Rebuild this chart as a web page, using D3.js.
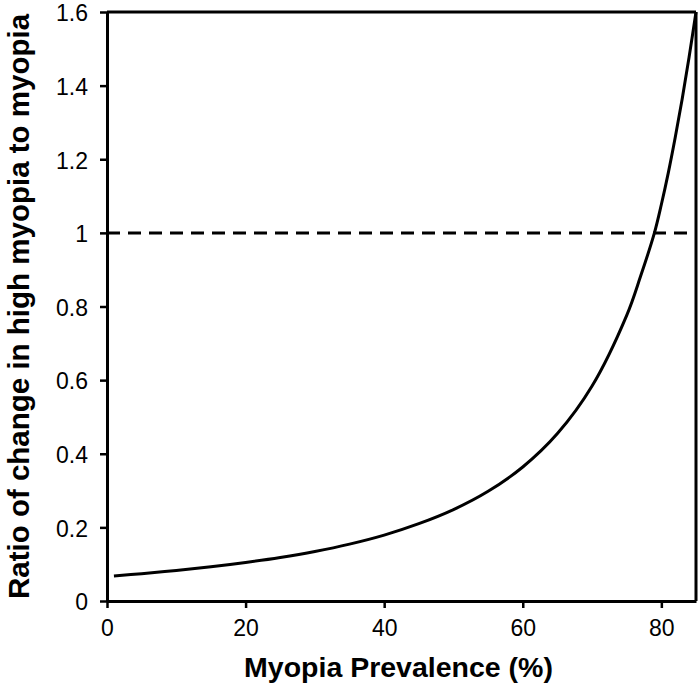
<!DOCTYPE html>
<html>
<head>
<meta charset="utf-8">
<script src="https://cdn.jsdelivr.net/npm/d3@7"></script>
<style>
  html, body { margin: 0; padding: 0; background: #fff; }
  svg { display: block; }
  text { font-family: "Liberation Sans", Arial, sans-serif; fill: #000; }
</style>
</head>
<body>
<svg id="chart" width="700" height="685"></svg>
<script>
// Data
const prevalence = [1, 5, 10, 15, 20, 25, 30, 35, 40, 45, 50, 55, 60, 65, 70, 75, 77, 79, 80, 81, 82, 83, 84, 85];
const ratio      = [0.068, 0.0743, 0.083, 0.093, 0.1047, 0.1183, 0.1346, 0.1545, 0.179, 0.210, 0.2483, 0.298, 0.364, 0.4548, 0.584, 0.776, 0.882, 1.0, 1.077, 1.163, 1.259, 1.363, 1.477, 1.6];
const referenceValue = 1;
const xTicks = [0, 20, 40, 60, 80];
const xTickLabels = ["0", "20", "40", "60", "80"];
const yTicks = [0, 0.2, 0.4, 0.6, 0.8, 1, 1.2, 1.4, 1.6];
const yTickLabels = ["0", "0.2", "0.4", "0.6", "0.8", "1", "1.2", "1.4", "1.6"];
const xTitle = "Myopia Prevalence (%)";
const yTitle = "Ratio of change in high myopia to myopia";

const svg = d3.select("#chart");
const margin = { left: 107, top: 12, right: 4, bottom: 84 };
const W = 700, H = 685;
const x = d3.scaleLinear().domain([0, 85]).range([margin.left, W - margin.right]);
const y = d3.scaleLinear().domain([0, 1.6]).range([H - margin.bottom, margin.top]);

const lw = 3;
const tickFont = "23px";

// X axis
const xAxis = d3.axisBottom(x).tickValues(xTicks)
  .tickFormat((d, i) => xTickLabels[i]).tickSizeInner(7).tickSizeOuter(0).tickPadding(12);
const gx = svg.append("g").attr("transform", `translate(0,${y(0)})`).call(xAxis);
gx.select(".domain").attr("stroke", "#000").attr("stroke-width", lw);
gx.selectAll(".tick line").attr("stroke", "#000").attr("stroke-width", 2.5);
gx.selectAll(".tick text").style("font-size", tickFont).style("font-family", "Liberation Sans, Arial, sans-serif");

// Y axis
const yAxis = d3.axisLeft(y).tickValues(yTicks)
  .tickFormat((d, i) => yTickLabels[i]).tickSizeInner(7).tickSizeOuter(0).tickPadding(12);
const gy = svg.append("g").attr("transform", `translate(${x(0)},0)`).call(yAxis);
gy.select(".domain").attr("stroke", "#000").attr("stroke-width", lw);
gy.selectAll(".tick line").attr("stroke", "#000").attr("stroke-width", 2.5);
gy.selectAll(".tick text").attr("dy", "0.38em").style("font-size", tickFont).style("font-family", "Liberation Sans, Arial, sans-serif");

// Top and right frame lines
svg.append("line").attr("x1", x(0)).attr("x2", x(85)).attr("y1", y(1.6)).attr("y2", y(1.6))
  .attr("stroke", "#000").attr("stroke-width", lw);
svg.append("line").attr("x1", x(85)).attr("x2", x(85)).attr("y1", y(1.6)).attr("y2", y(0))
  .attr("stroke", "#000").attr("stroke-width", lw);

// Dashed reference line
svg.append("line").attr("x1", x(0)).attr("x2", x(85))
  .attr("y1", y(referenceValue)).attr("y2", y(referenceValue))
  .attr("stroke", "#000").attr("stroke-width", 3).attr("stroke-dasharray", "13,8");

// Curve
const data = prevalence.map((p, i) => ({ p, r: ratio[i] }));
const line = d3.line().x(d => x(d.p)).y(d => y(d.r)).curve(d3.curveCatmullRom.alpha(0.5));
svg.append("path").datum(data).attr("d", line)
  .attr("fill", "none").attr("stroke", "#000").attr("stroke-width", 3);

// Axis titles
svg.append("text").attr("x", (x(0) + x(85)) / 2 - 3).attr("y", 677)
  .attr("text-anchor", "middle").style("font-size", "28.5px").style("font-weight", "bold")
  .text(xTitle);
svg.append("text").attr("transform", `translate(29,${(y(0) + y(1.6)) / 2}) rotate(-90)`)
  .attr("text-anchor", "middle").style("font-size", "29.5px").style("font-weight", "bold")
  .text(yTitle);
</script>
</body>
</html>
